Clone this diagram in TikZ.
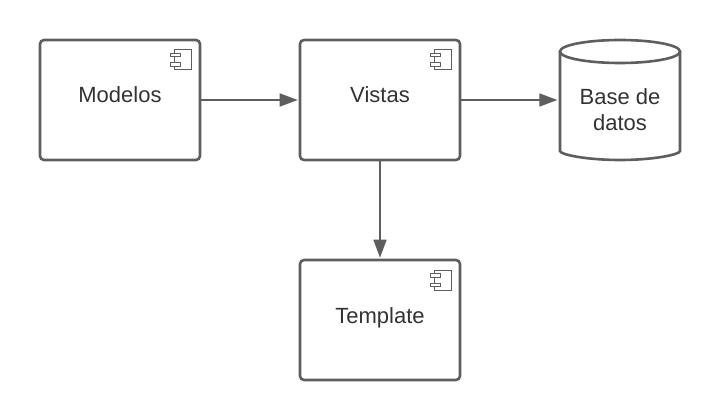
\documentclass[tikz,border=0pt]{standalone}
\usepackage{fontspec}
\setmainfont{Liberation Sans}
\usetikzlibrary{positioning,arrows.meta}
\definecolor{linegray}{HTML}{5E5E5E}
\definecolor{textgray}{HTML}{333333}
\tikzset{
    x=1pt, y=-1pt,
    comp_box/.style={draw=linegray, line width=2.6pt, rounded corners=4pt, minimum width=160pt, minimum height=120pt, inner sep=0pt, fill=white},
    comp_label/.style={font=\fontsize{22pt}{26pt}\selectfont, text=textgray, align=center, anchor=base},
    flow_arrow/.style={draw=linegray, line width=1.7pt, shorten >=1pt, -{Triangle[length=18pt,width=13pt]}},
    comp_icon/.pic={
        \draw[linegray, line width=1pt] (-6.5,-10) rectangle (10.5,10);
        \draw[linegray, line width=1pt, fill=white] (-10.5,-6.5) rectangle (0,-3);
        \draw[linegray, line width=1pt, fill=white] (-10.5,3) rectangle (0,6.5);
    },
}
\begin{document}
\begin{tikzpicture}
    \useasboundingbox (0,0) rectangle (720,420);
    % Row 1
    \node[comp_box] (modelos) at (120,100) {};
    \node[comp_box] (vistas)  at (380,100) {};
    % Row 2
    \node[comp_box] (template) at (380,320) {};

    \node[comp_label] (modelos_txt)  at (120,102) {Modelos};
    \node[comp_label] (vistas_txt)   at (380,102) {Vistas};
    \node[comp_label] (template_txt) at (380,323) {Template};

    \pic (icon1) at (180.5,60)  {comp_icon};
    \pic (icon2) at (440.5,60)  {comp_icon};
    \pic (icon3) at (440.5,280) {comp_icon};

    % Database
    \draw[linegray, line width=2.6pt, fill=white, rounded corners=3pt] (560,51) -- (560,148)
        arc[start angle=180, end angle=360, x radius=60, y radius=-12] -- (680,51);
    \draw[linegray, line width=2.6pt, fill=white] (620,51.5) ellipse[x radius=60, y radius=11.5];
    \node[minimum width=120pt, minimum height=120pt, inner sep=0pt] (bd) at (620,100) {};
    \node[comp_label, anchor=center] (bd_txt) at (620,110) {Base de\\datos};

    % Connectors
    \draw[flow_arrow] (modelos) -- (vistas);
    \draw[flow_arrow, shorten >=2.5pt] (vistas) -- (bd);
    \draw[flow_arrow] (vistas) -- (template);
\end{tikzpicture}
\end{document}
